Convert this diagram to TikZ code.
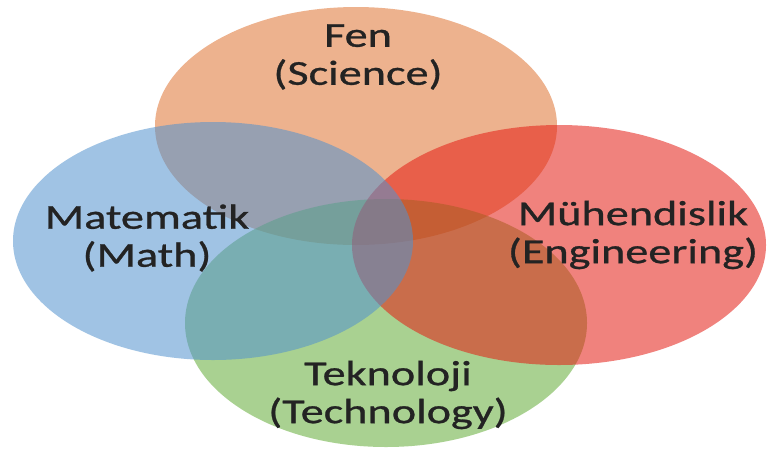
\documentclass[tikz,border=0pt]{standalone}
\usepackage{fontspec}
\newfontfamily\vennfont[FakeStretch=1.32,FakeBold=0.8]{Carlito}

\definecolor{fenorange}{RGB}{224,115,50}
\definecolor{mathblue}{RGB}{82,146,206}
\definecolor{engred}{RGB}{228,28,19}
\definecolor{techgreen}{RGB}{100,173,55}
\definecolor{labeldark}{RGB}{35,35,35}

\begin{document}
\begin{tikzpicture}[x=1pt,y=-1pt,
    set/.style={fill opacity=0.55},
    lbl/.style={font=\vennfont\fontsize{35}{38}\selectfont, align=center, text=labeldark}]
    \useasboundingbox[fill=white] (0,0) rectangle (767,451);

    %Draw the four sets
    \fill[fenorange, set] (356,126) ellipse [x radius=201pt, y radius=119pt];
    \fill[techgreen, set] (386,323) ellipse [x radius=201pt, y radius=124pt];
    \fill[engred, set] (559,245) ellipse [x radius=207pt, y radius=120pt];
    \fill[mathblue, set] (213,241) ellipse [x radius=200pt, y radius=119pt];

    %Labels
    \node[lbl] (fen) at (358,57) {Fen\\(Science)};
    \node[lbl] (mat) at (147,238) {Matematik\\(Math)};
    \node[lbl] (muh) at (633,235) {Mühendislik\\(Engineering)};
    \node[lbl] (tek) at (388,395) {Teknoloji\\(Technology)};

\end{tikzpicture}
\end{document}
